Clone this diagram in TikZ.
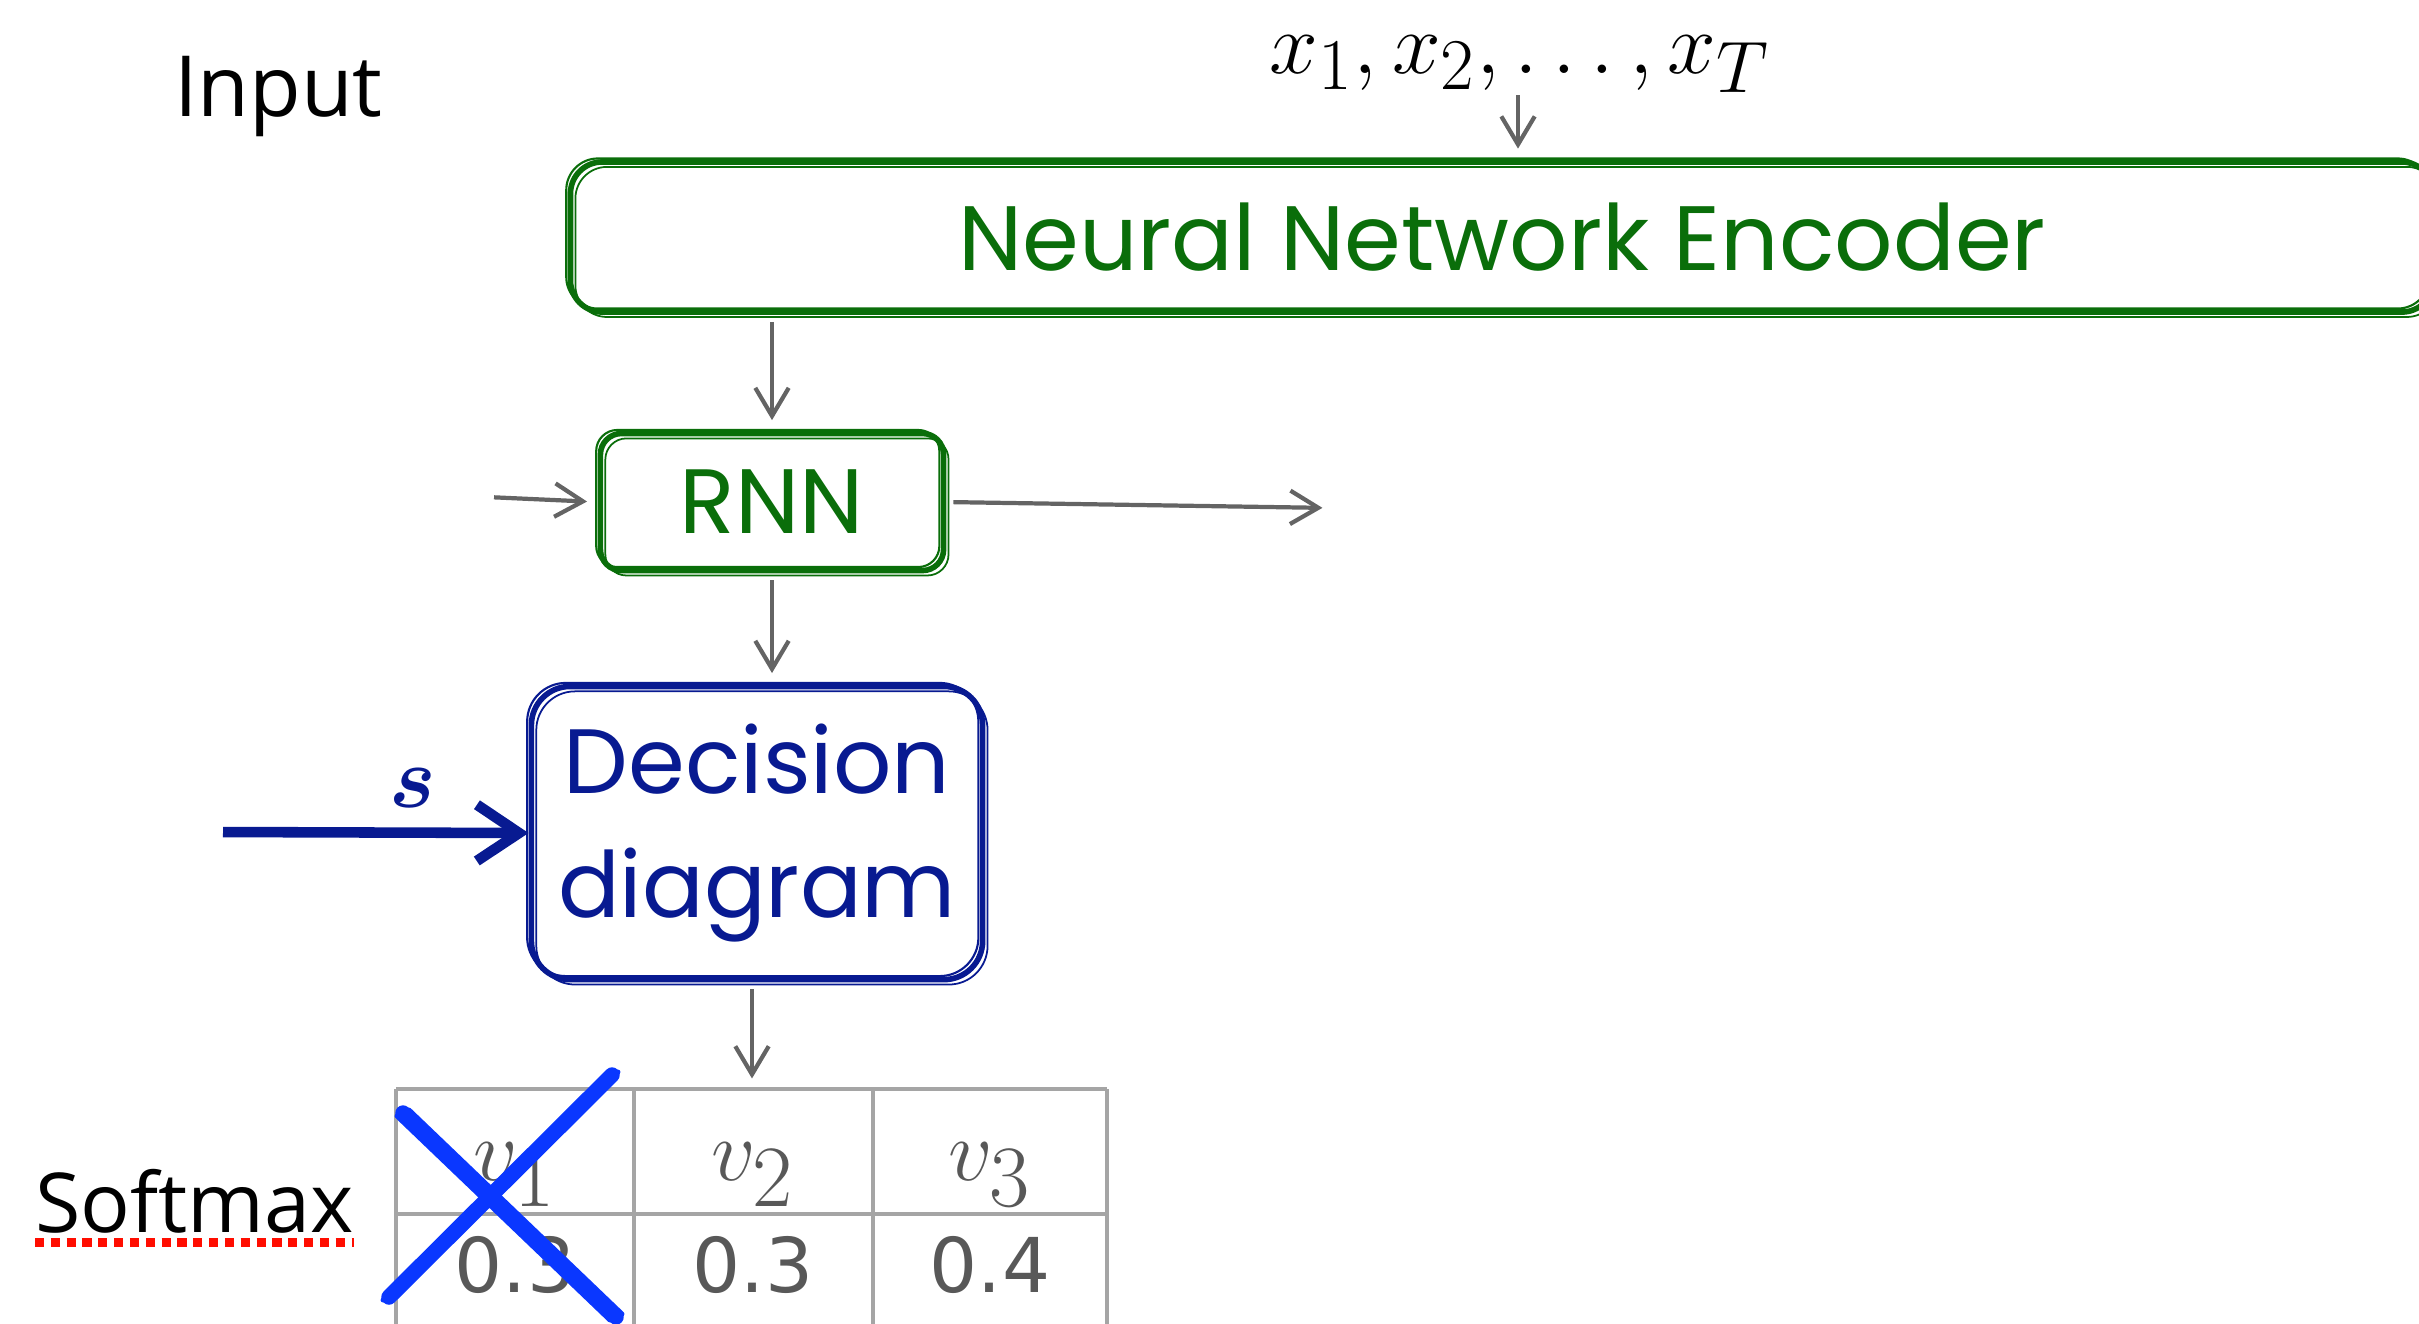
\documentclass[tikz,border=0pt]{standalone}
\usepackage{amsmath}
\usepackage{bm}
\usepackage{fontspec}
\usepackage{xcolor}
\usepackage{tikz}
\usetikzlibrary{arrows, arrows.meta}
\newfontfamily\boxfont{Poppins}
\newfontfamily\labelfont{Open Sans}
\newfontfamily\numfont{DejaVu Sans}
\definecolor{encgreen}{RGB}{10,110,10}
\definecolor{ddblue}{RGB}{8,26,145}
\definecolor{xblue}{RGB}{10,55,255}
\definecolor{arrowgray}{RGB}{100,100,100}
\definecolor{gridgray}{RGB}{165,165,165}
\definecolor{textgray}{RGB}{88,88,88}
\tikzset{
  plain/.style={inner sep=0pt, outer sep=0pt},
  sketchbox/.style={draw, line width=1.6pt, inner sep=0pt, align=center,
    font=\boxfont\fontsize{26}{35}\selectfont,
    preaction={draw, line width=0.6pt, transform canvas={shift={(-1.2pt,1pt)}}},
    postaction={draw, line width=0.5pt, transform canvas={shift={(1.4pt,-1.4pt)}}}},
  flow/.style={arrowgray, line width=1.2pt, -{Straight Barb[length=8pt, width=9.5pt]},
    shorten <=2pt, shorten >=3pt},
  sflow/.style={ddblue, line width=3pt, -{Straight Barb[length=12pt, width=16pt]}},
  grid/.style={gridgray, line width=1.1pt},
  xmark/.style={xblue, line cap=round},
}

\begin{document}
\begin{tikzpicture}[x=0.01cm, y=-0.01cm]
  \useasboundingbox (0,0) rectangle (2419,1323);
  \clip (0,0) rectangle (2419,1323);

  \node[plain, anchor=base west, font=\labelfont\fontsize{24}{30}\selectfont] (input) at (174,116) {Input};
  \node[plain, anchor=base, font=\fontsize{32}{32}\selectfont] (xs) at (1520,73) {$x_1, x_2, \ldots, x_T$};
  \node[sketchbox, encgreen, rounded corners=9pt, minimum width=18.62cm, minimum height=1.5cm] (enc) at (1502,237) {Neural Network Encoder};
  \node[sketchbox, encgreen, rounded corners=6pt, minimum width=3.43cm, minimum height=1.37cm] (rnn) at (772,502) {RNN};
  \node[sketchbox, ddblue, rounded corners=11pt, minimum width=4.51cm, minimum height=2.93cm] (dd) at (757,833) {Decision\\diagram};
  \node[plain, ddblue, anchor=base, font=\fontsize{42}{42}\selectfont] (slabel) at (413,807) {$\bm{s}$};
  \node[plain, anchor=base west, font=\labelfont\fontsize{23.5}{30}\selectfont] (softmax) at (35,1232) {Softmax};

  \coordinate (xsin) at (1518,88);
  \coordinate (rnnin) at (487,497);
  \coordinate (rnnout) at (1333,508);
  \coordinate (sin) at (223,832);
  \coordinate (tabletop) at (752,1089);

  \foreach \from/\to in {
    xsin/{xsin |- enc.north},
    {enc.south -| rnn.north}/rnn.north,
    rnnin/rnn.west,
    rnn.east/rnnout,
    rnn.south/{rnn.south |- dd.north},
    {tabletop |- dd.south}/tabletop}
  \draw[flow] (\from) -- (\to);

  \draw[sflow] (sin) -- (dd.west);

  \foreach \x in {396,634,873,1107}
    \draw[grid] (\x,1089) -- (\x,1360);
  \foreach \y in {1089,1214}
    \draw[grid] (396,\y) -- (1107,\y);

  \foreach \i/\cx/\p in {1/515/0.3, 2/753/0.3, 3/990/0.4} {
    \node[plain, textgray, anchor=base, font=\fontsize{38}{38}\selectfont] (v\i) at (\cx,1180) {$v_{\i}$};
    \node[plain, textgray, anchor=base, font=\numfont\fontsize{21.5}{24}\selectfont] (p\i) at (\cx,1292) {\p};
  }

  \draw[red!90!orange, line width=2.4pt, dash pattern=on 2.6pt off 1.9pt]
    ([yshift=-3pt]softmax.base west) -- ([yshift=-3pt]softmax.base east);

  \foreach \dx/\dy/\w in {0/0/4.4pt, 6/-3/1.4pt, -6/3/1.4pt, 3/5/0.8pt} {
    \draw[xmark, line width=\w] ({403+\dx},{1113+\dy}) -- ({616+\dx},{1317+\dy});
    \draw[xmark, line width=\w] ({612+\dx},{1075+\dy}) -- ({389+\dx},{1297+\dy});
  }
\end{tikzpicture}
\end{document}
